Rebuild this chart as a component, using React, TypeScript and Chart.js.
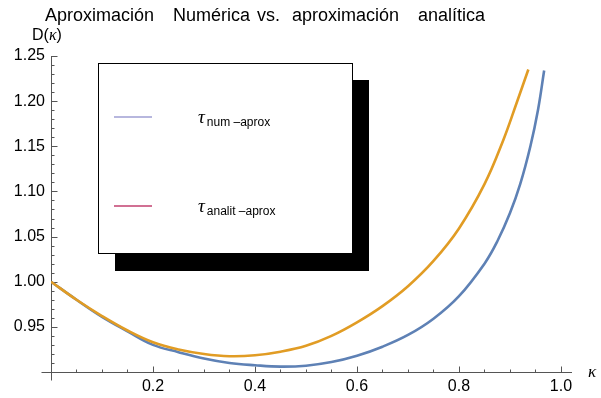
import React, { useEffect, useRef } from "react";
import { Chart, registerables } from "chart.js";

Chart.register(...registerables);

// Numerical approximation (blue)
const numX = [0, 0.05, 0.1, 0.15, 0.2, 0.25, 0.3, 0.35, 0.4, 0.45, 0.5, 0.55, 0.6, 0.65, 0.7, 0.75, 0.8, 0.85, 0.875, 0.9, 0.92, 0.94, 0.955, 0.967];
const numY = [1.0, 0.98, 0.961, 0.945, 0.93, 0.922, 0.915, 0.91, 0.9075, 0.906, 0.907, 0.911, 0.918, 0.928, 0.941, 0.959, 0.984, 1.02, 1.0445, 1.076, 1.108, 1.15, 1.1905, 1.234];

// Analytic approximation (orange)
const anaX = [0, 0.05, 0.1, 0.15, 0.2, 0.25, 0.3, 0.35, 0.4, 0.45, 0.5, 0.55, 0.6, 0.65, 0.7, 0.75, 0.8, 0.85, 0.887, 0.913, 0.936];
const anaY = [1.0, 0.98, 0.962, 0.946, 0.933, 0.925, 0.92, 0.9175, 0.9185, 0.9225, 0.929, 0.94, 0.955, 0.973, 0.995, 1.023, 1.059, 1.108, 1.157, 1.198, 1.235];

const xTickLabels = [0.2, 0.4, 0.6, 0.8, 1.0];
const yTickLabels = [0.95, 1.0, 1.05, 1.1, 1.15, 1.2, 1.25];
const xMinorTicks = [0.05, 0.1, 0.15, 0.25, 0.3, 0.35, 0.45, 0.5, 0.55, 0.65, 0.7, 0.75, 0.85, 0.9, 0.95];
const yMinorTicks = [0.91, 0.92, 0.93, 0.94, 0.96, 0.97, 0.98, 0.99, 1.01, 1.02, 1.03, 1.04, 1.06, 1.07, 1.08, 1.09, 1.11, 1.12, 1.13, 1.14, 1.16, 1.17, 1.18, 1.19, 1.21, 1.22, 1.23, 1.24];

const X_MIN = 0;
const X_MAX = 1.0216;
const Y_MIN = 0.9;
const Y_MAX = 1.25;

const titleWords = ["Aproximación", "Numérica", "vs.", "aproximación", "analítica"];
const titleWordX = [45, 173, 257, 292, 418];
const legendNames = ["num –aprox", "analit –aprox"];
const legendSwatch = ["#9f9fd3", "#c2406f"];

const SANS = '"Liberation Sans", Arial, sans-serif';
const SERIF = '"Liberation Serif", "Times New Roman", serif';

const decor = {
  id: "decor",
  beforeDatasetsDraw(chart: any) {
    const { ctx } = chart;
    const xs = chart.scales.x;
    const ys = chart.scales.y;
    const x0 = Math.round(xs.getPixelForValue(0)) + 0.5;
    const yb = Math.round(ys.getPixelForValue(Y_MIN)) + 0.5;
    ctx.save();
    ctx.strokeStyle = "#555";
    ctx.lineWidth = 1;
    ctx.beginPath();
    ctx.moveTo(x0 - 10, yb);
    ctx.lineTo(xs.right, yb);
    ctx.moveTo(x0, ys.getPixelForValue(Y_MAX));
    ctx.lineTo(x0, yb + 8);
    for (const v of xTickLabels) {
      const p = Math.round(xs.getPixelForValue(v)) + 0.5;
      ctx.moveTo(p, yb);
      ctx.lineTo(p, yb - 6);
    }
    for (const v of xMinorTicks) {
      const p = Math.round(xs.getPixelForValue(v)) + 0.5;
      ctx.moveTo(p, yb);
      ctx.lineTo(p, yb - 3);
    }
    for (const v of yTickLabels) {
      const p = Math.round(ys.getPixelForValue(v)) + 0.5;
      ctx.moveTo(x0, p);
      ctx.lineTo(x0 + 6, p);
    }
    for (const v of yMinorTicks) {
      const p = Math.round(ys.getPixelForValue(v)) + 0.5;
      ctx.moveTo(x0, p);
      ctx.lineTo(x0 + 3, p);
    }
    ctx.stroke();
    ctx.restore();
  },
  afterDraw(chart: any) {
    const { ctx } = chart;
    ctx.save();
    ctx.fillStyle = "#000";
    ctx.textBaseline = "alphabetic";
    ctx.textAlign = "left";
    // Title
    ctx.font = `18px ${SANS}`;
    titleWords.forEach((w, i) => ctx.fillText(w, titleWordX[i], 21));
    // Axis titles
    ctx.font = `16px ${SANS}`;
    ctx.fillText("D(", 32, 40);
    const w = ctx.measureText("D(").width;
    ctx.font = `italic 16px ${SERIF}`;
    ctx.fillText("κ", 32 + w, 40);
    const wk = ctx.measureText("κ").width;
    ctx.font = `16px ${SANS}`;
    ctx.fillText(")", 32 + w + wk, 40);
    ctx.font = `italic 17px ${SERIF}`;
    ctx.fillText("κ", 588, 377);

    // Legend
    ctx.fillStyle = "#000";
    ctx.fillRect(115, 80, 254, 191);
    ctx.fillStyle = "#fff";
    ctx.fillRect(98, 63, 255, 191);
    ctx.strokeStyle = "#000";
    ctx.lineWidth = 1;
    ctx.strokeRect(98.5, 63.5, 254, 190);
    const rows = [117, 206];
    rows.forEach((y, i) => {
      ctx.strokeStyle = legendSwatch[i];
      ctx.lineWidth = 1.5;
      ctx.beginPath();
      ctx.moveTo(114, y);
      ctx.lineTo(152, y);
      ctx.stroke();
      ctx.fillStyle = "#000";
      ctx.font = `italic 19px ${SERIF}`;
      ctx.fillText("τ", 198, y + 6);
      const tw = ctx.measureText("τ").width;
      ctx.font = `12px ${SANS}`;
      ctx.fillText(legendNames[i], 198 + tw + 2, y + 9);
    });
    ctx.restore();
  },
};

export default function App() {
  const ref = useRef<HTMLCanvasElement | null>(null);
  useEffect(() => {
    document.body.style.margin = "0";
    const canvas = ref.current;
    if (!canvas) return;
    const chart = new Chart(canvas, {
      type: "line",
      data: {
        datasets: [
          {
            label: "analit",
            data: anaX.map((x, i) => ({ x, y: anaY[i] })),
            borderColor: "#e19c24",
            borderWidth: 2.6,
            pointRadius: 0,
            fill: false,
            tension: 0.4,
          },
          {
            label: "num",
            data: numX.map((x, i) => ({ x, y: numY[i] })),
            borderColor: "#5e81b5",
            borderWidth: 2.6,
            pointRadius: 0,
            fill: false,
            tension: 0.4,
          },
        ],
      },
      options: {
        animation: false,
        responsive: false,
        devicePixelRatio: 1,
        layout: { padding: { top: 56, right: 29, left: 0, bottom: 0 } },
        plugins: { legend: { display: false }, title: { display: false }, tooltip: { enabled: false } },
        scales: {
          x: {
            type: "linear",
            min: X_MIN,
            max: X_MAX,
            grid: { display: false, drawTicks: false },
            border: { display: false },
            afterBuildTicks: (s: any) => {
              s.ticks = xTickLabels.map((v) => ({ value: v }));
            },
            afterFit: (s: any) => {
              s.height = 26;
            },
            ticks: {
              padding: 5,
              color: "#000",
              font: { family: SANS, size: 16 },
              maxRotation: 0,
              autoSkip: false,
              callback: (v: any) => Number(v).toFixed(1),
            },
          },
          y: {
            type: "linear",
            min: Y_MIN,
            max: Y_MAX,
            grid: { display: false, drawTicks: false },
            border: { display: false },
            afterBuildTicks: (s: any) => {
              s.ticks = yTickLabels.map((v) => ({ value: v }));
            },
            afterFit: (s: any) => {
              s.width = 51;
            },
            ticks: {
              padding: 6,
              color: "#000",
              font: { family: SANS, size: 16 },
              autoSkip: false,
              callback: (v: any) => Number(v).toFixed(2),
            },
          },
        },
      },
      plugins: [decor],
    });
    return () => chart.destroy();
  }, []);
  return (
    <div style={{ width: 601, height: 398 }}>
      <canvas ref={ref} width={601} height={398} style={{ display: "block" }} />
    </div>
  );
}
